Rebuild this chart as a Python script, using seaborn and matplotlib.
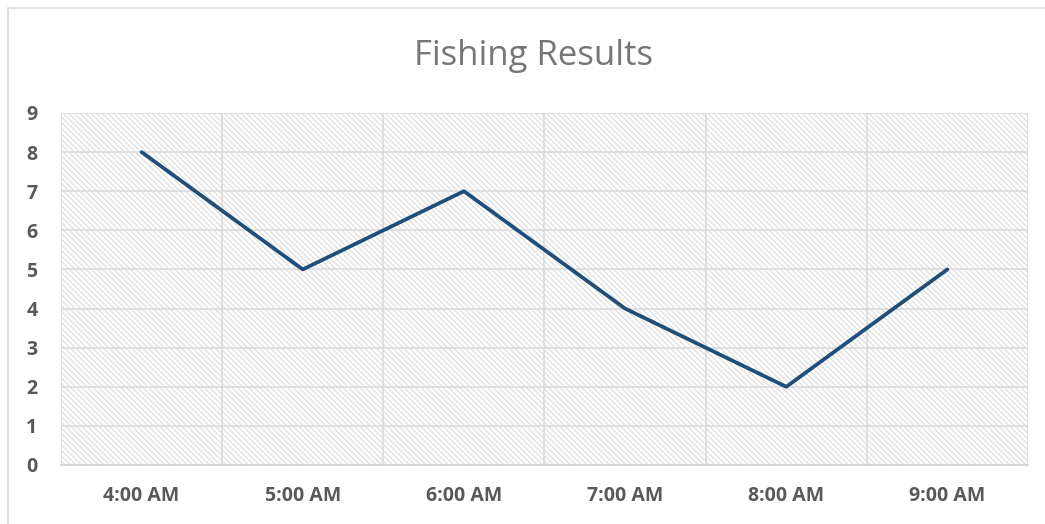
import matplotlib
matplotlib.use("Agg")
import matplotlib.pyplot as plt
import seaborn as sns
import pandas as pd
from matplotlib.patches import Rectangle
from matplotlib.lines import Line2D

# data
times = ["4:00 AM", "5:00 AM", "6:00 AM", "7:00 AM", "8:00 AM", "9:00 AM"]
fish = [8, 5, 7, 4, 2, 5]
y_ticks = [0, 1, 2, 3, 4, 5, 6, 7, 8, 9]

sns.set_theme(style="white")
plt.rcParams["font.family"] = ["Open Sans", "DejaVu Sans"]
plt.rcParams["hatch.color"] = "#dedede"
plt.rcParams["hatch.linewidth"] = 0.9

df = pd.DataFrame({"time": times, "fish": fish})
df["pos"] = range(len(times))

fig = plt.figure(figsize=(10.45, 5.24), dpi=100)
ax = fig.add_axes([0.0584, 0.1126, 0.9253, 0.6718])

# hatched plot area
ax.add_patch(Rectangle((0, 0), 1, 1, transform=ax.transAxes, facecolor="white",
                       edgecolor="#dedede", hatch="\\" * 6, linewidth=0, zorder=0))

sns.lineplot(data=df, x="pos", y="fish", ax=ax, color="#1f4e79", linewidth=2.7,
             solid_capstyle="round", zorder=3)

ax.set_xlim(-0.5, len(times) - 0.5)
ax.set_ylim(0, 9)
ax.set_yticks(y_ticks)
ax.set_xticks(range(len(times)))
ax.set_xticklabels(times)

# gridlines: horizontal at values, vertical between categories
for y in y_ticks[1:]:
    ax.axhline(y, color="#d9d9d9", linewidth=1.1, zorder=1)
for x in range(len(times) + 1):
    ax.axvline(x - 0.5, color="#d9d9d9", linewidth=1.1, zorder=1)

for s in ["top", "right", "left"]:
    ax.spines[s].set_visible(False)
ax.spines["bottom"].set_color("#d0d0d0")
ax.spines["bottom"].set_linewidth(1.2)

ax.tick_params(axis="both", length=0, labelsize=14, labelcolor="#595959")
ax.tick_params(axis="x", pad=15)
ax.tick_params(axis="y", pad=25)
for lab in ax.get_xticklabels() + ax.get_yticklabels():
    lab.set_fontweight("bold")
for lab in ax.get_yticklabels():
    lab.set_horizontalalignment("left")
ax.set_xlabel("")
ax.set_ylabel("")

fig.text(0.511, 0.893, "Fishing Results", ha="center", va="center",
         fontsize=25, color="#767676")

# outer chart border (top and left edges visible)
fig.add_artist(Line2D([7.5 / 1045, 1.0], [1 - 7.5 / 524, 1 - 7.5 / 524],
                      transform=fig.transFigure, color="#d9d9d9", linewidth=1.2))
fig.add_artist(Line2D([7.5 / 1045, 7.5 / 1045], [0, 1 - 7.5 / 524],
                      transform=fig.transFigure, color="#d9d9d9", linewidth=1.2))

fig.savefig("out.png", dpi=100)
